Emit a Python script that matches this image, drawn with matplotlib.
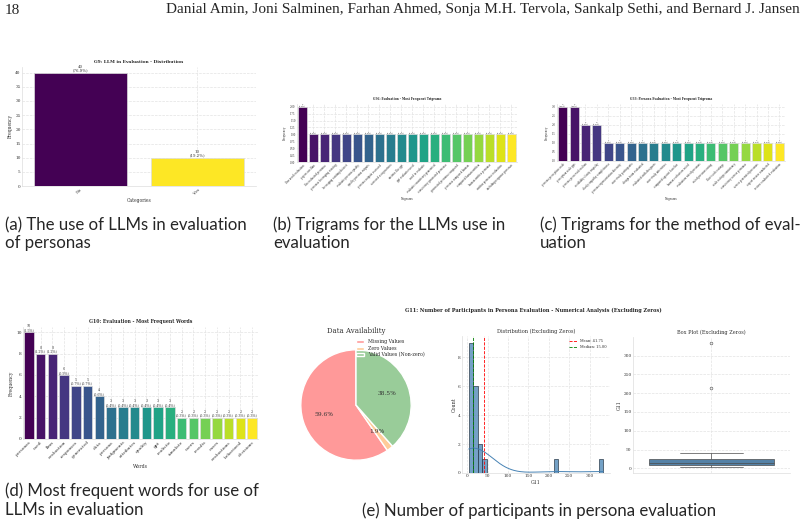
import numpy as np
import matplotlib
matplotlib.use("Agg")
import matplotlib.pyplot as plt
import seaborn as sns

# ---- data ----
# (a) G9: LLM in evaluation
g9_categories = ["No", "Yes"]
g9_counts = [40, 10]
g9_total = 52

# (b) G36: trigrams, LLM use in evaluation
g36_trigrams = ["llms used evaluation", "papers use llms", "llm evaluated personas",
                "personas leveraging existing", "leveraging existing dataset",
                "evaluate persona quality", "quality persona outputs", "persona outputs assessed",
                "assessed using metrics", "metrics like gpt", "gpt evaluator used",
                "used to evaluate", "evaluate consistency generated", "consistency generated personas",
                "generated personas compared", "personas compared human", "compared human written",
                "human written personas", "written personas evaluation", "including response personas"]
g36_counts = [2, 1, 1, 1, 1, 1, 1, 1, 1, 1, 1, 1, 1, 1, 1, 1, 1, 1, 1, 1]
g36_total = 29

# (c) G33: trigrams, persona evaluation method
g33_trigrams = ["persona perception scale", "perception scale pps", "persona perceived realism",
                "credibility clarity empathy", "clarity empathy completeness",
                "persona representation diversity", "user study participants", "design team evaluated",
                "evaluated with designers", "user study interviews", "compared against baseline",
                "human evaluators rated", "evaluators rated personas", "rated personas using",
                "likert scale ratings", "scale ratings consistency", "consistency across personas",
                "across generated personas", "expert review conducted", "review conducted evaluation"]
g33_counts = [3, 3, 2, 2, 1, 1, 1, 1, 1, 1, 1, 1, 1, 1, 1, 1, 1, 1, 1, 1]
g33_total = 70

# (d) G10: most frequent words
g10_words = ["personas", "used", "llms", "evaluation", "responses", "generated", "data",
             "persona", "judgments", "attributes", "quality", "gpt", "realistic", "simulate",
             "users", "results", "cases", "evaluations", "behavioral", "decisions"]
g10_counts = [10, 8, 8, 6, 5, 5, 4, 3, 3, 3, 3, 3, 3, 2, 2, 2, 2, 2, 2, 2]
g10_total = 667

# (e) G11: number of participants
g11_parts = ["Missing Values", "Zero Values", "Valid Values (Non-zero)"]
g11_part_counts = [31, 1, 20]
g11_values = [4, 5, 6, 8, 10, 10, 12, 12, 14, 15, 15, 18, 20, 20, 23, 27, 28, 40, 215, 333]

sns.set_style("whitegrid")
plt.rcParams["font.family"] = ["DejaVu Serif"]

W, H = 804, 528
fig = plt.figure(figsize=(W / 100, H / 100), dpi=100)


def px_axes(l, t, r, b):
    return fig.add_axes([l / W, 1 - b / H, (r - l) / W, (b - t) / H])


def px_text(x, y, s, **kw):
    fig.text(x / W, 1 - y / H, s, **kw)


def tidy(ax, fs):
    ax.grid(True, color="#e3e3e3", linestyle="--", linewidth=0.5)
    for name, s in ax.spines.items():
        s.set_color("#dddddd")
        s.set_linewidth(0.5)
        if name in ("top", "right"):
            s.set_visible(False)
    ax.tick_params(length=0, pad=1, labelsize=fs, colors="#333333")


def bar_panel(ax, names, counts, total, title, xlabel, yticks, yfmt, fs, tfs, lfs, ymax):
    x = np.arange(len(counts))
    colors = plt.cm.viridis(np.linspace(0, 1, len(counts)))
    ax.bar(x, counts, width=0.8, color=colors, edgecolor="#dddddd", linewidth=0.5)
    for xi, c in zip(x, counts):
        ax.text(xi, c, f"{c}\n({c / total * 100:.1f}%)", ha="center", va="bottom",
                fontsize=lfs, linespacing=0.95, color="#333333")
    ax.set_xticks(x)
    ax.set_xticklabels(names, rotation=45, ha="right", rotation_mode="anchor")
    ax.set_xlim(-0.5, len(counts) - 0.5)
    ax.set_ylim(0, ymax)
    ax.set_yticks(yticks)
    ax.set_yticklabels([yfmt.format(v) for v in yticks])
    ax.set_title(title, fontsize=tfs, fontweight="bold", pad=3)
    ax.set_xlabel(xlabel, fontsize=fs * 1.05, labelpad=2, color="#333333")
    ax.set_ylabel("Frequency", fontsize=fs * 1.05, labelpad=2, color="#333333")
    tidy(ax, fs)


# ---- page header ----
px_text(5, 10, "18", fontsize=11, family="Liberation Serif", va="center")
px_text(800, 10, "Danial Amin, Joni Salminen, Farhan Ahmed, Sonja M.H. Tervola, Sankalp Sethi, and Bernard J. Jansen",
        fontsize=11, family="Liberation Serif", va="center", ha="right")

# (a)
ax = px_axes(22, 67, 256, 186)
bar_panel(ax, g9_categories, g9_counts, g9_total, "G9: LLM in Evaluation - Distribution",
          "Categories", list(range(0, 41, 5)), "{:d}", 3.1, 3.2, 2.8, 42)

# (b)
ax = px_axes(297, 104, 517, 162)
bar_panel(ax, g36_trigrams, g36_counts, g36_total, "G36: Evaluation - Most Frequent Trigrams",
          "Trigrams", list(np.arange(0, 2.01, 0.25)), "{:.2f}", 1.8, 2.1, 1.5, 2.1)

# (c)
ax = px_axes(557, 104, 785, 161)
bar_panel(ax, g33_trigrams, g33_counts, g33_total, "G33: Persona Evaluation - Most Frequent Trigrams",
          "Trigrams", list(np.arange(0, 3.01, 0.5)), "{:.1f}", 1.8, 2.1, 1.5, 3.15)

# (d)
ax = px_axes(23, 327, 258, 439)
bar_panel(ax, g10_words, g10_counts, g10_total, "G10: Evaluation - Most Frequent Words",
          "Words", list(range(0, 11, 2)), "{:d}", 3.2, 3.3, 2.3, 10.5)

# (e) pie
px_text(533, 310, "G11: Number of Participants in Persona Evaluation - Numerical Analysis (Excluding Zeros)",
        fontsize=3.6, fontweight="bold", ha="center", va="center")
ax = px_axes(287, 336, 425, 474)
wedges, _, autotexts = ax.pie(g11_part_counts, colors=["#ff9999", "#ffcc99", "#99cc99"],
                              autopct="%1.1f%%", startangle=90,
                              textprops={"fontsize": 4.2, "color": "#333333"})
ax.set_title("Data Availability", fontsize=5, pad=2, color="#333333")
ax.legend(wedges, g11_parts, loc="upper right", bbox_to_anchor=(1.02, 1.0), fontsize=3.4,
          frameon=False, handlelength=1.6, handleheight=0.6, labelspacing=0.3, borderpad=0.2)

# (e) histogram
vals = np.array(g11_values)
ax = px_axes(462, 336, 610, 473)
sns.histplot(vals, bins=30, kde=True, ax=ax, color="steelblue", edgecolor="#2b3b4b",
             linewidth=0.5, alpha=0.75, line_kws={"linewidth": 0.7})
mean, median = vals.mean(), np.median(vals)
ax.axvline(mean, color="red", linestyle="--", linewidth=0.6, label=f"Mean: {mean:.2f}")
ax.axvline(median, color="green", linestyle="--", linewidth=0.6, label=f"Median: {median:.2f}")
ax.set_title("Distribution (Excluding Zeros)", fontsize=3.6, pad=2, color="#333333")
ax.set_xlabel("G11", fontsize=3.4, labelpad=1, color="#333333")
ax.set_ylabel("Count", fontsize=3.4, labelpad=1, color="#333333")
ax.set_xticks(range(0, 301, 50))
ax.legend(loc="upper right", fontsize=2.6, frameon=False, handlelength=2.2)
tidy(ax, 3.2)

# (e) box plot
ax = px_axes(633, 337, 790, 473)
sns.boxplot(y=vals, ax=ax, color="steelblue", linewidth=0.5,
            flierprops={"marker": "o", "markersize": 2, "markeredgewidth": 0.4})
ax.set_title("Box Plot (Excluding Zeros)", fontsize=3.6, pad=2, color="#333333")
ax.set_ylabel("G11", fontsize=3.4, labelpad=1, color="#333333")
ax.set_yticks(range(0, 301, 50))
tidy(ax, 3.2)

# ---- captions ----
cap = dict(fontsize=12.1, family="Lato", va="center")
px_text(5, 225, "(a) The use of LLMs in evaluation", **cap)
px_text(5, 243, "of personas", **cap)
px_text(273, 225, "(b) Trigrams for the LLMs use in", **cap)
px_text(273, 243, "evaluation", **cap)
px_text(540, 225, "(c) Trigrams for the method of eval-", **cap)
px_text(540, 243, "uation", **cap)
px_text(5, 491, "(d) Most frequent words for use of", **cap)
px_text(5, 510, "LLMs in evaluation", **cap)
px_text(539, 511, "(e) Number of participants in persona evaluation", ha="center", **cap)

fig.savefig("out.png", dpi=100)
